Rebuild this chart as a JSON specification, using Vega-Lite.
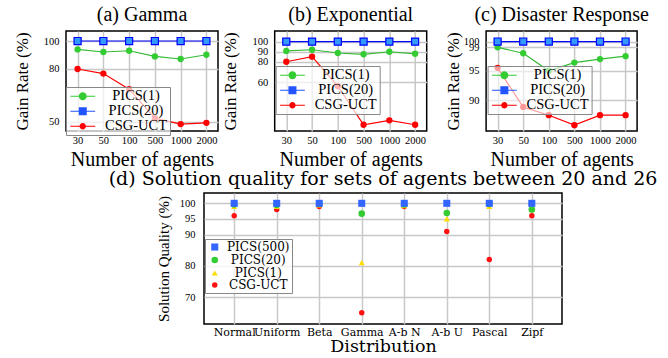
{
  "$schema": "https://vega.github.io/schema/vega-lite/v6.json",
  "padding": {"left": 12, "top": 4, "right": 0, "bottom": 0},
  "background": "white",
  "datasets": {
    "gamma": [
      {"s": "PICS(1)", "n": "30", "v": 93.7}, {"s": "PICS(1)", "n": "50", "v": 91.8}, {"s": "PICS(1)", "n": "100", "v": 92.7},
      {"s": "PICS(1)", "n": "500", "v": 88.6}, {"s": "PICS(1)", "n": "1000", "v": 86.8}, {"s": "PICS(1)", "n": "2000", "v": 89.8},
      {"s": "PICS(20)", "n": "30", "v": 100}, {"s": "PICS(20)", "n": "50", "v": 100}, {"s": "PICS(20)", "n": "100", "v": 100},
      {"s": "PICS(20)", "n": "500", "v": 100}, {"s": "PICS(20)", "n": "1000", "v": 100}, {"s": "PICS(20)", "n": "2000", "v": 100},
      {"s": "CSG-UCT", "n": "30", "v": 80}, {"s": "CSG-UCT", "n": "50", "v": 77}, {"s": "CSG-UCT", "n": "100", "v": 67.4},
      {"s": "CSG-UCT", "n": "500", "v": 51.7}, {"s": "CSG-UCT", "n": "1000", "v": 48.8}, {"s": "CSG-UCT", "n": "2000", "v": 49.4}
    ],
    "expo": [
      {"s": "PICS(1)", "n": "30", "v": 90.8}, {"s": "PICS(1)", "n": "50", "v": 92}, {"s": "PICS(1)", "n": "100", "v": 88.8},
      {"s": "PICS(1)", "n": "500", "v": 87.5}, {"s": "PICS(1)", "n": "1000", "v": 90}, {"s": "PICS(1)", "n": "2000", "v": 88},
      {"s": "PICS(20)", "n": "30", "v": 100}, {"s": "PICS(20)", "n": "50", "v": 100}, {"s": "PICS(20)", "n": "100", "v": 100},
      {"s": "PICS(20)", "n": "500", "v": 100}, {"s": "PICS(20)", "n": "1000", "v": 100}, {"s": "PICS(20)", "n": "2000", "v": 100},
      {"s": "CSG-UCT", "n": "30", "v": 80.1}, {"s": "CSG-UCT", "n": "50", "v": 85.1}, {"s": "CSG-UCT", "n": "100", "v": 56},
      {"s": "CSG-UCT", "n": "500", "v": 17.6}, {"s": "CSG-UCT", "n": "1000", "v": 22}, {"s": "CSG-UCT", "n": "2000", "v": 17.6}
    ],
    "disaster": [
      {"s": "PICS(1)", "n": "30", "v": 99.0}, {"s": "PICS(1)", "n": "50", "v": 98.0}, {"s": "PICS(1)", "n": "100", "v": 95.0},
      {"s": "PICS(1)", "n": "500", "v": 96.4}, {"s": "PICS(1)", "n": "1000", "v": 97.0}, {"s": "PICS(1)", "n": "2000", "v": 97.5},
      {"s": "PICS(20)", "n": "30", "v": 100}, {"s": "PICS(20)", "n": "50", "v": 100}, {"s": "PICS(20)", "n": "100", "v": 100},
      {"s": "PICS(20)", "n": "500", "v": 100}, {"s": "PICS(20)", "n": "1000", "v": 100}, {"s": "PICS(20)", "n": "2000", "v": 100},
      {"s": "CSG-UCT", "n": "30", "v": 95.5}, {"s": "CSG-UCT", "n": "50", "v": 88.8}, {"s": "CSG-UCT", "n": "100", "v": 87.4},
      {"s": "CSG-UCT", "n": "500", "v": 85.7}, {"s": "CSG-UCT", "n": "1000", "v": 87.4}, {"s": "CSG-UCT", "n": "2000", "v": 87.4}
    ],
    "quality": [
      {"d": "Normal", "s": "CSG-UCT", "v": 96}, {"d": "Normal", "s": "PICS(1)", "v": 99}, {"d": "Normal", "s": "PICS(20)", "v": 99.6}, {"d": "Normal", "s": "PICS(500)", "v": 100},
      {"d": "Uniform", "s": "CSG-UCT", "v": 98}, {"d": "Uniform", "s": "PICS(1)", "v": 99}, {"d": "Uniform", "s": "PICS(20)", "v": 99.5}, {"d": "Uniform", "s": "PICS(500)", "v": 100},
      {"d": "Beta", "s": "CSG-UCT", "v": 99}, {"d": "Beta", "s": "PICS(1)", "v": 99.5}, {"d": "Beta", "s": "PICS(20)", "v": 99.8}, {"d": "Beta", "s": "PICS(500)", "v": 100},
      {"d": "Gamma", "s": "CSG-UCT", "v": 65}, {"d": "Gamma", "s": "PICS(1)", "v": 81}, {"d": "Gamma", "s": "PICS(20)", "v": 96.7}, {"d": "Gamma", "s": "PICS(500)", "v": 100},
      {"d": "A-b N", "s": "CSG-UCT", "v": 99}, {"d": "A-b N", "s": "PICS(1)", "v": 99.3}, {"d": "A-b N", "s": "PICS(20)", "v": 99.6}, {"d": "A-b N", "s": "PICS(500)", "v": 100},
      {"d": "A-b U", "s": "CSG-UCT", "v": 91}, {"d": "A-b U", "s": "PICS(1)", "v": 95}, {"d": "A-b U", "s": "PICS(20)", "v": 96.9}, {"d": "A-b U", "s": "PICS(500)", "v": 100},
      {"d": "Pascal", "s": "CSG-UCT", "v": 82}, {"d": "Pascal", "s": "PICS(1)", "v": 99}, {"d": "Pascal", "s": "PICS(20)", "v": 99.8}, {"d": "Pascal", "s": "PICS(500)", "v": 100},
      {"d": "Zipf", "s": "CSG-UCT", "v": 96}, {"d": "Zipf", "s": "PICS(1)", "v": 98}, {"d": "Zipf", "s": "PICS(20)", "v": 98}, {"d": "Zipf", "s": "PICS(500)", "v": 100}
    ]
  },
  "config": {
    "font": "Liberation Serif",
    "view": {"stroke": "black", "strokeWidth": 1.5},
    "axis": {
      "grid": true, "gridColor": "#c8c8c8", "gridWidth": 1.5, "domain": false, "ticks": false,
      "labelFont": "Liberation Serif", "labelFontSize": 10.5, "labelColor": "black", "labelOverlap": false,
      "titleFont": "Liberation Serif", "titleFontWeight": "normal", "titleColor": "black"
    },
    "title": {"font": "Liberation Serif", "fontWeight": "normal", "fontSize": 20, "color": "black", "offset": 6},
    "legend": {"cornerRadius": 0}
  },
  "vconcat": [
    {
      "hconcat": [
        {
          "width": 152, "height": 100,
          "title": "(a) Gamma",
          "data": {"name": "gamma"},
          "encoding": {
            "x": {"field": "n", "type": "ordinal", "sort": ["30", "50", "100", "500", "1000", "2000"], "scale": {"type": "point", "padding": 0.45},
                  "axis": {"title": "Number of agents", "labelAngle": 0, "labelPadding": 4, "titleFontSize": 20, "titlePadding": 4}},
            "y": {"field": "v", "type": "quantitative", "scale": {"type": "pow", "exponent": 0.33, "domain": [45.6, 107.9], "nice": false, "zero": false},
                  "axis": {"values": [50, 80, 100], "title": "Gain Rate (%)", "titleFontSize": 17, "labelPadding": 7, "titlePadding": 11.7}}
          },
          "layer": [
            {"transform": [{"filter": "datum.s == 'PICS(1)'"}], "mark": {"type": "line", "strokeWidth": 1.2, "color": "#33bb33"}},
            {"transform": [{"filter": "datum.s == 'PICS(20)'"}], "mark": {"type": "line", "strokeWidth": 1.2, "color": "#0000ff"}},
            {"transform": [{"filter": "datum.s == 'CSG-UCT'"}], "mark": {"type": "line", "strokeWidth": 1.2, "color": "#ff0000"}},
            {"transform": [{"filter": "datum.s == 'PICS(1)'"}], "mark": {"type": "circle", "size": 40, "opacity": 1, "color": "#33cc33"}},
            {"transform": [{"filter": "datum.s == 'CSG-UCT'"}], "mark": {"type": "circle", "size": 40, "opacity": 1, "color": "#ff0000"}},
            {"transform": [{"filter": "datum.s == 'PICS(20)'"}], "mark": {"type": "square", "size": 50, "opacity": 1, "fill": "#3399ff", "stroke": "#0000ff", "strokeWidth": 1.2}},
            {"transform": [{"filter": "datum.v < 0"}], "mark": {"type": "point", "filled": true, "opacity": 1},
             "encoding": {
               "color": {"field": "s", "type": "nominal", "scale": {"domain": ["PICS(1)", "PICS(20)", "CSG-UCT"], "range": ["#33cc33", "#2255ff", "#ff0000"]},
                        "legend": {"title": null, "orient": "none", "legendX": 0, "legendY": 56, "padding": 2, "strokeColor": "#888", "fillColor": "rgba(255,255,255,0.7)",
                                   "labelFont": "Liberation Serif", "labelFontSize": 14.5, "labelAlign": "center", "labelOffset": 46, "symbolOffset": 7.5,
                                   "symbolSize": 64, "symbolStrokeWidth": 0, "rowPadding": 0, "labelLimit": 200, "symbolOpacity": 1}},
               "shape": {"field": "s", "type": "nominal", "scale": {"domain": ["PICS(1)", "PICS(20)", "CSG-UCT"], "range": ["M-3.1,-0.15H-1V0.15H-3.1Z M1,-0.15H3.1V0.15H1Z M1,0A1,1,0,1,1,-1,0A1,1,0,1,1,1,0Z", "M-3.1,-0.15H-1V0.15H-3.1Z M1,-0.15H3.1V0.15H1Z M-1,-1H1V1H-1Z", "M-3.1,-0.15H-0.8V0.15H-3.1Z M0.8,-0.15H3.1V0.15H0.8Z M0.8,0A0.8,0.8,0,1,1,-0.8,0A0.8,0.8,0,1,1,0.8,0Z"]}}
             }}
          ]
        },
        {
          "hconcat": [
            {
              "width": 152, "height": 100,
              "title": "(b) Exponential",
              "data": {"name": "expo"},
              "encoding": {
                "x": {"field": "n", "type": "ordinal", "sort": ["30", "50", "100", "500", "1000", "2000"], "scale": {"type": "point", "padding": 0.45},
                      "axis": {"title": "Number of agents", "labelAngle": 0, "labelPadding": 4, "titleFontSize": 20, "titlePadding": 4}},
                "y": {"field": "v", "type": "quantitative", "scale": {"domain": [11.4, 110.6], "nice": false, "zero": false},
                      "axis": {"values": [60, 80, 90, 100], "title": "Gain Rate (%)", "titleFontSize": 17, "labelPadding": 7, "titlePadding": 12.4}}
              },
              "layer": [
                {"transform": [{"filter": "datum.s == 'PICS(1)'"}], "mark": {"type": "line", "strokeWidth": 1.2, "color": "#33bb33"}},
                {"transform": [{"filter": "datum.s == 'PICS(20)'"}], "mark": {"type": "line", "strokeWidth": 1.2, "color": "#0000ff"}},
                {"transform": [{"filter": "datum.s == 'CSG-UCT'"}], "mark": {"type": "line", "strokeWidth": 1.2, "color": "#ff0000"}},
                {"transform": [{"filter": "datum.s == 'PICS(1)'"}], "mark": {"type": "circle", "size": 40, "opacity": 1, "color": "#33cc33"}},
                {"transform": [{"filter": "datum.s == 'CSG-UCT'"}], "mark": {"type": "circle", "size": 40, "opacity": 1, "color": "#ff0000"}},
                {"transform": [{"filter": "datum.s == 'PICS(20)'"}], "mark": {"type": "square", "size": 50, "opacity": 1, "fill": "#3399ff", "stroke": "#0000ff", "strokeWidth": 1.2}},
                {"transform": [{"filter": "datum.v < 0"}], "mark": {"type": "point", "filled": true, "opacity": 1},
                 "encoding": {
                   "color": {"field": "s", "type": "nominal", "scale": {"domain": ["PICS(1)", "PICS(20)", "CSG-UCT"], "range": ["#33cc33", "#2255ff", "#ff0000"]},
                            "legend": {"title": null, "orient": "none", "legendX": 1, "legendY": 35, "padding": 2, "strokeColor": "#888", "fillColor": "rgba(255,255,255,0.7)",
                                       "labelFont": "Liberation Serif", "labelFontSize": 14.5, "labelAlign": "center", "labelOffset": 46, "symbolOffset": 7.5,
                                       "symbolSize": 64, "symbolStrokeWidth": 0, "rowPadding": 0, "labelLimit": 200, "symbolOpacity": 1}},
                   "shape": {"field": "s", "type": "nominal", "scale": {"domain": ["PICS(1)", "PICS(20)", "CSG-UCT"], "range": ["M-3.1,-0.15H-1V0.15H-3.1Z M1,-0.15H3.1V0.15H1Z M1,0A1,1,0,1,1,-1,0A1,1,0,1,1,1,0Z", "M-3.1,-0.15H-1V0.15H-3.1Z M1,-0.15H3.1V0.15H1Z M-1,-1H1V1H-1Z", "M-3.1,-0.15H-0.8V0.15H-3.1Z M0.8,-0.15H3.1V0.15H0.8Z M0.8,0A0.8,0.8,0,1,1,-0.8,0A0.8,0.8,0,1,1,0.8,0Z"]}}
                 }}
              ]
            },
            {
              "width": 151, "height": 100,
              "title": "(c) Disaster Response",
              "data": {"name": "disaster"},
              "encoding": {
                "x": {"field": "n", "type": "ordinal", "sort": ["30", "50", "100", "500", "1000", "2000"], "scale": {"type": "point", "padding": 0.45},
                      "axis": {"title": "Number of agents", "labelAngle": 0, "labelPadding": 4, "titleFontSize": 20, "titlePadding": 4}},
                "y": {"field": "v", "type": "quantitative", "scale": {"domain": [84.7, 101.8], "nice": false, "zero": false},
                      "axis": {"values": [90, 95, 99, 100], "title": "Gain Rate (%)", "titleFontSize": 17, "labelPadding": 7, "titlePadding": 1}}
              },
              "layer": [
                {"transform": [{"filter": "datum.s == 'PICS(1)'"}], "mark": {"type": "line", "strokeWidth": 1.2, "color": "#33bb33"}},
                {"transform": [{"filter": "datum.s == 'PICS(20)'"}], "mark": {"type": "line", "strokeWidth": 1.2, "color": "#0000ff"}},
                {"transform": [{"filter": "datum.s == 'CSG-UCT'"}], "mark": {"type": "line", "strokeWidth": 1.2, "color": "#ff0000"}},
                {"transform": [{"filter": "datum.s == 'PICS(1)'"}], "mark": {"type": "circle", "size": 40, "opacity": 1, "color": "#33cc33"}},
                {"transform": [{"filter": "datum.s == 'CSG-UCT'"}], "mark": {"type": "circle", "size": 40, "opacity": 1, "color": "#ff0000"}},
                {"transform": [{"filter": "datum.s == 'PICS(20)'"}], "mark": {"type": "square", "size": 50, "opacity": 1, "fill": "#3399ff", "stroke": "#0000ff", "strokeWidth": 1.2}},
                {"transform": [{"filter": "datum.v < 0"}], "mark": {"type": "point", "filled": true, "opacity": 1},
                 "encoding": {
                   "color": {"field": "s", "type": "nominal", "scale": {"domain": ["PICS(1)", "PICS(20)", "CSG-UCT"], "range": ["#33cc33", "#2255ff", "#ff0000"]},
                            "legend": {"title": null, "orient": "none", "legendX": 1.5, "legendY": 35, "padding": 2, "strokeColor": "#888", "fillColor": "rgba(255,255,255,0.6)",
                                       "labelFont": "Liberation Serif", "labelFontSize": 14.5, "labelAlign": "center", "labelOffset": 46, "symbolOffset": 7.5,
                                       "symbolSize": 64, "symbolStrokeWidth": 0, "rowPadding": 0, "labelLimit": 200, "symbolOpacity": 0.6}},
                   "shape": {"field": "s", "type": "nominal", "scale": {"domain": ["PICS(1)", "PICS(20)", "CSG-UCT"], "range": ["M-3.1,-0.15H-1V0.15H-3.1Z M1,-0.15H3.1V0.15H1Z M1,0A1,1,0,1,1,-1,0A1,1,0,1,1,1,0Z", "M-3.1,-0.15H-1V0.15H-3.1Z M1,-0.15H3.1V0.15H1Z M-1,-1H1V1H-1Z", "M-3.1,-0.15H-0.8V0.15H-3.1Z M0.8,-0.15H3.1V0.15H0.8Z M0.8,0A0.8,0.8,0,1,1,-0.8,0A0.8,0.8,0,1,1,0.8,0Z"]}}
                 }}
              ]
            }
          ],
          "spacing": 15.4,
          "resolve": {"scale": {"color": "independent", "shape": "independent"}, "legend": {"shape": "independent", "color": "independent"}}
        }
      ],
      "spacing": 1.7,
      "resolve": {"scale": {"color": "independent", "shape": "independent"}, "legend": {"shape": "independent", "color": "independent"}}
    },
    {
      "hconcat": [
        {"width": 1, "height": 131, "view": {"stroke": null}, "data": {"values": [{"a": 1}]}, "mark": {"type": "point", "opacity": 0}, "encoding": {}},
        {
          "width": 358, "height": 131,
          "title": {"text": "(d) Solution quality for sets of agents between 20 and 26", "font": "DejaVu Serif", "fontSize": 19, "offset": 4},
          "data": {"name": "quality"},
          "mark": {"type": "point", "filled": true, "opacity": 1},
          "encoding": {
            "x": {"field": "d", "type": "ordinal", "sort": ["Normal", "Uniform", "Beta", "Gamma", "A-b N", "A-b U", "Pascal", "Zipf"], "scale": {"type": "point", "padding": 0.71},
                  "axis": {"title": "Distribution", "labelAngle": 0, "labelFont": "DejaVu Serif", "labelFontSize": 11, "labelPadding": 2, "titleFont": "DejaVu Serif", "titleFontSize": 17.5, "titlePadding": 0}},
            "y": {"field": "v", "type": "quantitative", "scale": {"domain": [61.4, 103.3], "nice": false, "zero": false},
                  "axis": {"values": [70, 80, 90, 95, 100], "title": "Solution Quality (%)", "titleFontSize": 15, "labelPadding": 9, "titlePadding": 8}},
            "color": {"field": "s", "type": "nominal", "scale": {"domain": ["PICS(500)", "PICS(20)", "PICS(1)", "CSG-UCT"], "range": ["#3366ff", "#33cc33", "#ffdd00", "#ff1111"]},
                      "legend": {"title": null, "orient": "none", "legendX": 1, "legendY": 46, "padding": 2, "strokeColor": "#888", "fillColor": "rgba(255,255,255,0.8)",
                                 "labelFont": "DejaVu Serif", "labelFontSize": 12, "labelAlign": "center", "labelOffset": 37.5, "symbolOffset": 1.75,
                                 "symbolSize": 30, "rowPadding": -3, "labelLimit": 200, "symbolOpacity": 0.6}},
            "shape": {"field": "s", "type": "nominal", "scale": {"domain": ["PICS(500)", "PICS(20)", "PICS(1)", "CSG-UCT"], "range": ["square", "circle", "triangle-up", "circle"]}},
            "size": {"field": "s", "type": "nominal", "scale": {"domain": ["PICS(500)", "PICS(20)", "PICS(1)", "CSG-UCT"], "range": [50, 30, 30, 30]}, "legend": null},
            "order": {"field": "s", "sort": "ascending"}
          }
        }
      ],
      "spacing": 37,
      "resolve": {"scale": {"color": "independent", "shape": "independent", "size": "independent"}, "legend": {"color": "independent", "shape": "independent", "size": "independent"}}
    }
  ],
  "spacing": -2,
  "resolve": {"scale": {"color": "independent", "shape": "independent", "size": "independent"}, "legend": {"shape": "independent", "color": "independent", "size": "independent"}}
}
